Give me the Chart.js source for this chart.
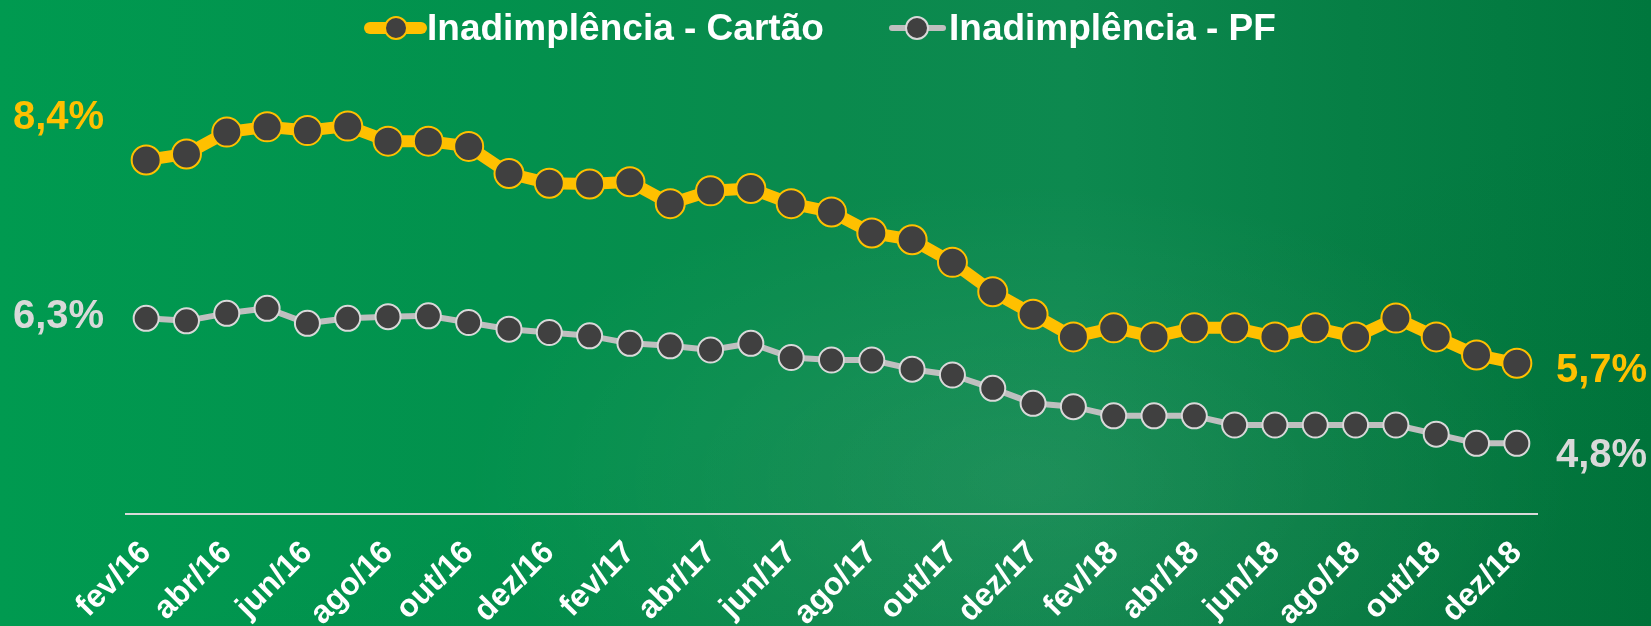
<!DOCTYPE html>
<html>
<head>
<meta charset="utf-8">
<script src="https://cdn.jsdelivr.net/npm/chart.js@4/dist/chart.umd.min.js"></script>
<style>
html, body { margin: 0; padding: 0; background: #009a50; }
#wrap {
  position: relative; width: 1651px; height: 626px; overflow: hidden;
  background:
    radial-gradient(ellipse 560px 300px at 1020px 480px, rgba(255,255,255,0.07), rgba(255,255,255,0) 100%),
    linear-gradient(160deg, rgba(0,0,0,0) 55%, rgba(0,60,20,0.10) 100%),
    linear-gradient(90deg, #009a50 0%, #02914d 30%, #0a8a4d 50%, #0d894f 65%, #067f45 82%, #00773d 100%);
}
canvas { position: absolute; left: 0; top: 0; }
</style>
</head>
<body>
<div id="wrap"><canvas id="c" width="1651" height="626"></canvas></div>
<script>
// ---- Data ----
const months = [
  'fev/16','mar/16','abr/16','mai/16','jun/16','jul/16','ago/16','set/16','out/16','nov/16','dez/16',
  'jan/17','fev/17','mar/17','abr/17','mai/17','jun/17','jul/17','ago/17','set/17','out/17','nov/17','dez/17',
  'jan/18','fev/18','mar/18','abr/18','mai/18','jun/18','jul/18','ago/18','set/18','out/18','nov/18','dez/18'
];
const cartao = [
  8.40, 8.48, 8.77, 8.84, 8.79, 8.85, 8.65, 8.65, 8.58, 8.22, 8.09,
  8.08, 8.11, 7.82, 7.99, 8.02, 7.82, 7.71, 7.43, 7.34, 7.04, 6.65, 6.35,
  6.05, 6.17, 6.05, 6.17, 6.17, 6.05, 6.17, 6.05, 6.30, 6.05, 5.81, 5.70
];
const pf = [
  6.30, 6.27, 6.36, 6.42, 6.24, 6.30, 6.32, 6.33, 6.25, 6.17, 6.13,
  6.09, 6.00, 5.97, 5.92, 6.00, 5.83, 5.80, 5.80, 5.69, 5.62, 5.46, 5.28,
  5.24, 5.13, 5.13, 5.13, 5.02, 5.02, 5.02, 5.02, 5.02, 4.91, 4.80, 4.80
];
const seriesNames = ['Inadimplência - Cartão', 'Inadimplência - PF'];
const startLabels = ['8,4%', '6,3%'];
const endLabels = ['5,7%', '4,8%'];

const YELLOW = '#FFC000', DARK = '#404040', GREY_LINE = '#BFBFBF', GREY_TXT = '#D9D9D9';
const FONT = '"Liberation Sans", Arial, sans-serif';

const decor = {
  id: 'decor',
  afterDraw(chart) {
    const ctx = chart.ctx;
    ctx.save();
    const drawMarker = (x1, x2, cx, y, lw, lineColor, r, ptBorder) => {
      ctx.strokeStyle = lineColor; ctx.lineWidth = lw; ctx.lineCap = 'round';
      ctx.beginPath(); ctx.moveTo(x1, y); ctx.lineTo(x2, y); ctx.stroke();
      ctx.beginPath(); ctx.arc(cx, y, r, 0, Math.PI * 2);
      ctx.fillStyle = DARK; ctx.fill();
      ctx.lineWidth = 2; ctx.strokeStyle = ptBorder; ctx.stroke();
    };
    drawMarker(370, 421, 396, 28, 12, YELLOW, 11, YELLOW);
    drawMarker(892, 943, 917, 28, 6, GREY_LINE, 11, GREY_TXT);
    ctx.font = 'bold 37px ' + FONT;
    ctx.fillStyle = '#FFFFFF';
    ctx.textBaseline = 'alphabetic';
    ctx.textAlign = 'left';
    ctx.fillText(seriesNames[0], 427, 40);
    ctx.fillText(seriesNames[1], 949, 40);
    ctx.font = 'bold 40px ' + FONT;
    ctx.fillStyle = YELLOW;
    ctx.fillText(startLabels[0], 13, 129);
    ctx.fillText(endLabels[0], 1556, 382);
    ctx.fillStyle = GREY_TXT;
    ctx.fillText(startLabels[1], 13, 328);
    ctx.fillText(endLabels[1], 1556, 467);
    ctx.restore();
  }
};

new Chart(document.getElementById('c'), {
  type: 'line',
  data: {
    labels: months,
    datasets: [
      {
        label: seriesNames[0], data: cartao, yAxisID: 'y',
        borderColor: YELLOW, borderWidth: 12, borderJoinStyle: 'round', borderCapStyle: 'round',
        pointRadius: 14.5, pointBackgroundColor: DARK, pointBorderColor: YELLOW, pointBorderWidth: 2,
        tension: 0, fill: false
      },
      {
        label: seriesNames[1], data: pf, yAxisID: 'y2',
        borderColor: GREY_LINE, borderWidth: 6, borderJoinStyle: 'round', borderCapStyle: 'round',
        pointRadius: 12.5, pointBackgroundColor: DARK, pointBorderColor: GREY_TXT, pointBorderWidth: 2,
        tension: 0, fill: false
      }
    ]
  },
  options: {
    responsive: false,
    animation: false,
    devicePixelRatio: 1,
    layout: { padding: { left: 126, right: 114, top: 80, bottom: 0 } },
    plugins: { legend: { display: false }, tooltip: { enabled: false } },
    scales: {
      x: {
        type: 'category',
        offset: true,
        grid: { display: false },
        border: { display: true, color: GREY_TXT, width: 2 },
        ticks: {
          color: '#FFFFFF',
          font: { family: FONT, weight: 'bold', size: 32 },
          autoSkip: false, minRotation: 45, maxRotation: 45, padding: 12,
          callback: (v, i) => (i % 2 === 0 ? months[i] : '')
        },
        afterFit: (s) => { s.height = 112; }
      },
      y: { display: false, min: 3.698, max: 9.462 },
      y2: { display: false, min: 3.952, max: 9.160 }
    }
  },
  plugins: [decor]
});
</script>
</body>
</html>
